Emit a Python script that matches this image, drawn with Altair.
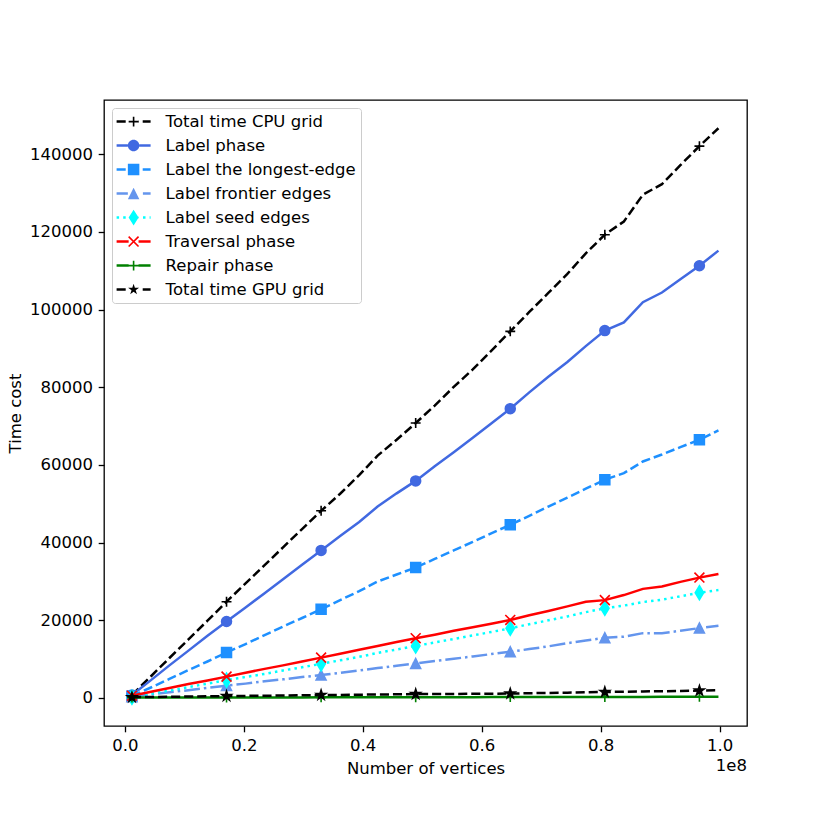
import math
import altair as alt
import pandas as pd

# ---------------- data ----------------
# x positions, in millions of vertices
vertices_m = [1.2, 4.4, 7.5, 10.7, 13.9, 17.1, 20.3, 23.5, 26.6, 29.8, 33.0,
              36.2, 39.4, 42.5, 45.7, 48.9, 52.1, 55.3, 58.5, 61.6, 64.8,
              68.0, 71.2, 74.4, 77.5, 80.7, 83.9, 87.1, 90.3, 93.4, 96.6, 99.8]

cpu_total = [800, 5600, 10300, 15100, 19900, 24800, 29500, 34200, 38800, 43500, 48200,
             52600, 57400, 62400, 66500, 70800, 75300, 80100, 84600, 89400, 94400,
             99400, 104300, 109200, 114500, 119300, 122700, 129600, 132300, 137200, 142100, 146700]
label_phase = [800, 4600, 8400, 12200, 16000, 19700, 23300, 27000, 30600, 34300, 38000,
               41700, 45300, 49300, 52700, 55900, 59700, 63300, 67000, 70700, 74500,
               78700, 82700, 86500, 90600, 94600, 96700, 101900, 104400, 107800, 111300, 115200]
label_longest = [500, 2700, 4900, 7200, 9400, 11700, 13900, 16200, 18400, 20600, 22850,
                 25200, 27500, 30000, 31800, 33600, 35800, 38000, 40200, 42400, 44600,
                 46900, 49300, 51600, 53900, 56200, 57900, 60900, 62700, 64600, 66500, 68900]
label_frontier = [300, 900, 1500, 2000, 2600, 3200, 3700, 4300, 4800, 5400, 5900,
                  6500, 7100, 7700, 8300, 8900, 9500, 10100, 10700, 11300, 11900,
                  12600, 13300, 14100, 14800, 15500, 15800, 16700, 16700, 17300, 18000, 18600]
label_seed = [200, 1100, 1900, 2800, 3700, 4600, 5400, 6200, 7100, 7900, 8800,
              9700, 10600, 11600, 12500, 13400, 14300, 15200, 16100, 17000, 17950,
              19000, 20000, 21000, 22100, 23100, 23800, 24700, 25300, 26200, 27100, 27800]
traversal = [600, 1600, 2600, 3600, 4500, 5500, 6500, 7500, 8400, 9400, 10400,
             11400, 12400, 13400, 14400, 15400, 16300, 17300, 18200, 19100, 20100,
             21300, 22400, 23600, 24800, 25200, 26500, 28100, 28700, 29900, 31000, 31950]
repair = [100, 110, 110, 120, 130, 130, 140, 150, 150, 160, 170,
          170, 180, 190, 190, 200, 210, 210, 220, 230, 230,
          240, 250, 250, 260, 270, 270, 280, 290, 290, 300, 310]
gpu_total = [200, 260, 320, 370, 430, 500, 540, 590, 640, 700, 760,
             800, 850, 900, 950, 1000, 1020, 1050, 1080, 1110, 1150,
             1230, 1300, 1380, 1460, 1550, 1610, 1680, 1750, 1820, 1900, 2000]

marker_index = [0, 5, 10, 15, 20, 25, 30]

series_names = ["Total time CPU grid", "Label phase", "Label the longest-edge",
                "Label frontier edges", "Label seed edges", "Traversal phase",
                "Repair phase", "Total time GPU grid"]
series_values = [cpu_total, label_phase, label_longest, label_frontier,
                 label_seed, traversal, repair, gpu_total]
x_ticks = [0, 2e7, 4e7, 6e7, 8e7, 1e8]
y_ticks = [0, 20000, 40000, 60000, 80000, 100000, 120000, 140000]

# ---------------- styles ----------------
FONT = "DejaVu Sans"
FS = 16.5
LW = 2.5
MS = 9.9           # marker size in px
MEW = 1.6          # marker edge width
DASHED = [9.1, 3.95]
DOTTED = [2.5, 4.1]
DASHDOT = [15.8, 4.0, 2.5, 4.0]

STAR_PTS = []
for k in range(10):
    r = 1.0 if k % 2 == 0 else 0.381966
    a = math.radians(90 + 36 * k)
    STAR_PTS.append((r * math.cos(a), -r * math.sin(a)))


def poly(pts):
    return "M" + "L".join(f"{x:.4f},{y:.4f}" for x, y in pts) + "Z"


STAR = poly(STAR_PTS)
PLUS = "M-1,0L1,0M0,-1L0,1"
XMARK = "M-1,-1L1,1M-1,1L1,-1"
TRI = "M0,-1L1,1L-1,1Z"
THIN_D = "M0,-1L0.6,0L0,1L-0.6,0Z"

# name: color, dash, marker kind
styles = {
    "Total time CPU grid": ("#000000", DASHED, "plus"),
    "Label phase": ("#4169E1", None, "circle"),
    "Label the longest-edge": ("#1E90FF", DASHED, "square"),
    "Label frontier edges": ("#6495ED", DASHDOT, "tri"),
    "Label seed edges": ("#00FFFF", DOTTED, "thin_d"),
    "Traversal phase": ("#FF0000", None, "x"),
    "Repair phase": ("#008000", None, "plus"),
    "Total time GPU grid": ("#000000", DASHED, "star"),
}

# ---------------- legend symbols (line + marker drawn as one filled path) ----------------
SYM = 18.0              # sqrt(symbolSize) in px
U = SYM / 2             # px per path unit
HW = 17.0 / U           # half width of the legend handle (34 px)


def rect(x0, x1, h):
    return poly([(x0, -h), (x1, -h), (x1, h), (x0, h)])


def segments(dash, m):
    segs = []
    if dash is None:
        segs = [(-HW, HW)]
    else:
        pat = [d / U for d in dash]
        pos, i = -HW, 0
        while pos < HW:
            ln = pat[i % len(pat)]
            if i % 2 == 0:
                segs.append((pos, min(pos + ln, HW)))
            pos += ln
            i += 1
    out = []
    for a, b in segs:
        if a < -m:
            out.append((a, min(b, -m)))
        if b > m:
            out.append((max(a, m), b))
    return out


def legend_marker(kind):
    m = (MS / 2 + MEW / 2) / U
    if kind == "circle":
        return f"M{m:.4f},0A{m:.4f},{m:.4f} 0 1 1 {-m:.4f},0A{m:.4f},{m:.4f} 0 1 1 {m:.4f},0Z", m
    if kind == "square":
        return rect(-m, m, m), m
    if kind == "tri":
        return poly([(0, -m), (m, m), (-m, m)]), m
    if kind == "thin_d":
        v = (MS * 0.7071 + MEW / 2) / U
        w = (MS * 0.7071 * 0.6 + MEW / 2) / U
        return poly([(0, -v), (w, 0), (0, v), (-w, 0)]), w
    if kind == "star":
        s = (MS / 2 + MEW / 2) / U
        return poly([(x * s, y * s) for x, y in STAR_PTS]), s * 0.95
    a = (MS / 2) / U
    t = (MEW / 2) / U
    if kind == "plus":
        return rect(-a, a, t) + poly([(-t, -a), (t, -a), (t, a), (-t, a)]), a
    # x marker
    d = t / math.sqrt(2)
    p1 = poly([(-a + d, -a - d), (a + d, a - d), (a - d, a + d), (-a - d, -a + d)])
    p2 = poly([(-a - d, a - d), (a - d, -a - d), (a + d, -a + d), (-a + d, a + d)])
    return p1 + p2, a


legend_paths = []
for name in series_names:
    color, dash, kind = styles[name]
    mpath, m = legend_marker(kind)
    h = (LW / 2) / U
    lines = "".join(rect(a, b, h) for a, b in segments(dash, m))
    legend_paths.append(lines + mpath)

# ---------------- table ----------------
rows = []
for name, vals in zip(series_names, series_values):
    for i, (xv, yv) in enumerate(zip(vertices_m, vals)):
        rows.append({"x": xv * 1e6, "y": yv, "series": name, "marker": i in marker_index})
df = pd.DataFrame(rows)

W, H = 643, 626
x_enc = alt.X("x:Q",
              scale=alt.Scale(domain=[-3.5e6, 104.6e6], nice=False, zero=False),
              axis=alt.Axis(values=x_ticks, labelExpr="format(datum.value / 1e8, '.1f')",
                            title="Number of vertices", grid=False, domain=False,
                            titlePadding=6))
y_enc = alt.Y("y:Q",
              scale=alt.Scale(domain=[-7210, 153980], nice=False, zero=False),
              axis=alt.Axis(values=y_ticks, format="d", title="Time cost", grid=False,
                            domain=False, titlePadding=6))

layers = []
base = alt.Chart(df)
for name in series_names:
    color, dash, kind = styles[name]
    line_kw = dict(color=color, strokeWidth=LW, clip=True)
    if dash is not None:
        line_kw["strokeDash"] = dash
    layers.append(base.transform_filter(alt.datum.series == name)
                  .mark_line(**line_kw).encode(x=x_enc, y=y_enc))
    if kind in ("plus", "x"):
        pt = dict(shape=PLUS if kind == "plus" else XMARK, filled=False, stroke=color,
                  strokeWidth=MEW, size=MS * MS, opacity=1)
    else:
        shape = {"circle": "circle", "square": "square", "tri": TRI,
                 "thin_d": THIN_D, "star": STAR}[kind]
        size = (MS * 1.4142) ** 2 if kind == "thin_d" else MS * MS
        pt = dict(shape=shape, filled=True, fill=color, stroke=color,
                  strokeWidth=MEW, size=size, opacity=1)
    layers.append(base.transform_filter((alt.datum.series == name) & alt.datum.marker)
                  .mark_point(**pt).encode(x=x_enc, y=y_enc))

PAD = 4.6
legend = alt.Legend(title=None, orient="top-left", offset=7.5, padding=PAD,
                    rowPadding=6.0, symbolOffset=8, labelOffset=23,
                    labelFont=FONT, labelFontSize=FS,
                    labelColor="black", labelLimit=400, symbolSize=SYM * SYM,
                    symbolStrokeWidth=0, symbolOpacity=1,
                    fillColor="rgba(255,255,255,0.8)", strokeColor="#cccccc",
                    cornerRadius=3)
legend_df = pd.DataFrame({"series": series_names, "x": [1.2e6] * 8, "y": [0] * 8})
legend_layer = alt.Chart(legend_df).mark_point(filled=True, opacity=0, size=SYM * SYM).encode(
    x=x_enc, y=y_enc,
    color=alt.Color("series:N", scale=alt.Scale(domain=series_names,
                                                range=[styles[n][0] for n in series_names]),
                    legend=legend),
    shape=alt.Shape("series:N", scale=alt.Scale(domain=series_names, range=legend_paths),
                    legend=legend),
)

offset_text = alt.Chart(pd.DataFrame({"t": ["1e8"]})).mark_text(
    align="right", baseline="alphabetic", font=FONT, fontSize=FS, color="black"
).encode(x=alt.value(W), y=alt.value(671), text="t:N")

chart = alt.layer(*layers, legend_layer, offset_text).properties(
    width=W, height=H,
    autosize=alt.AutoSizeParams(type="none"),
    padding={"left": 96, "top": 92, "right": 70, "bottom": 90},
).configure_view(stroke="black", strokeWidth=1.3).configure_axis(
    labelFont=FONT, labelFontSize=FS, labelColor="black",
    titleFont=FONT, titleFontSize=FS, titleColor="black", titleFontWeight="normal",
    tickColor="black", tickWidth=1.3, tickSize=5.8, labelPadding=5.8,
)

chart.save("out.html", embed_options={"renderer": "svg", "actions": False})
